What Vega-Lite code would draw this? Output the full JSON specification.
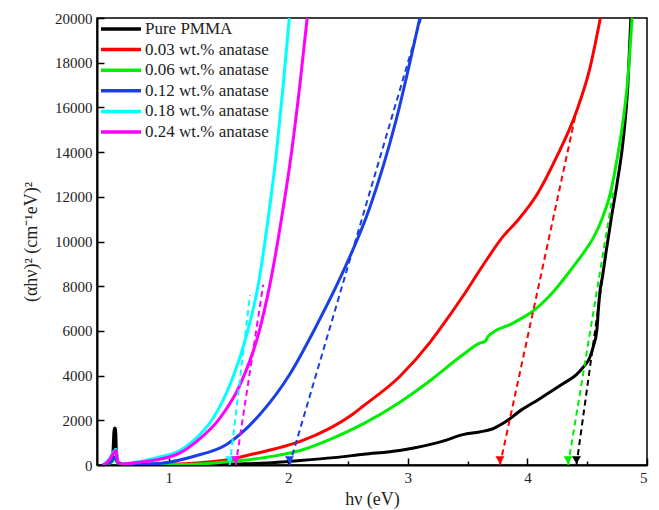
{
  "$schema": "https://vega.github.io/schema/vega-lite/v6.json",
  "width": 550,
  "height": 447,
  "autosize": "none",
  "padding": {"left": 97, "top": 18, "right": 12, "bottom": 45},
  "background": "white",
  "config": {
    "font": "Liberation Serif, serif",
    "view": {"stroke": "black", "strokeWidth": 1.5},
    "style": {
      "guide-label": {"font": "Liberation Serif, serif"},
      "guide-title": {"font": "Liberation Serif, serif"}
    },
    "axis": {
      "grid": false,
      "domainColor": "black",
      "domainWidth": 2,
      "tickColor": "black",
      "tickWidth": 1.5,
      "labelFont": "Liberation Serif, serif",
      "labelFontSize": 15,
      "labelColor": "#222",
      "titleFont": "Liberation Serif, serif",
      "titleFontSize": 18,
      "titleFontWeight": "normal",
      "titleColor": "#222"
    },
    "legend": {
      "labelFont": "Liberation Serif, serif"
    }
  },
  "datasets": {
    "curves": [
      {"series": "Pure PMMA", "x": 0.45, "y": 0},
      {"series": "Pure PMMA", "x": 0.5, "y": 100},
      {"series": "Pure PMMA", "x": 0.53, "y": 350},
      {"series": "Pure PMMA", "x": 0.545, "y": 1640},
      {"series": "Pure PMMA", "x": 0.555, "y": 1640},
      {"series": "Pure PMMA", "x": 0.565, "y": 150},
      {"series": "Pure PMMA", "x": 0.6, "y": 40},
      {"series": "Pure PMMA", "x": 0.8, "y": 10},
      {"series": "Pure PMMA", "x": 1.0, "y": 10},
      {"series": "Pure PMMA", "x": 1.3, "y": 20},
      {"series": "Pure PMMA", "x": 1.6, "y": 50},
      {"series": "Pure PMMA", "x": 1.82, "y": 90},
      {"series": "Pure PMMA", "x": 2.1, "y": 200},
      {"series": "Pure PMMA", "x": 2.38, "y": 330},
      {"series": "Pure PMMA", "x": 2.63, "y": 480},
      {"series": "Pure PMMA", "x": 2.93, "y": 650},
      {"series": "Pure PMMA", "x": 3.05, "y": 760},
      {"series": "Pure PMMA", "x": 3.18, "y": 910},
      {"series": "Pure PMMA", "x": 3.3, "y": 1080},
      {"series": "Pure PMMA", "x": 3.46, "y": 1360},
      {"series": "Pure PMMA", "x": 3.6, "y": 1480},
      {"series": "Pure PMMA", "x": 3.7, "y": 1600},
      {"series": "Pure PMMA", "x": 3.8, "y": 1880},
      {"series": "Pure PMMA", "x": 3.96, "y": 2500},
      {"series": "Pure PMMA", "x": 4.1, "y": 2950},
      {"series": "Pure PMMA", "x": 4.2, "y": 3300},
      {"series": "Pure PMMA", "x": 4.3, "y": 3650},
      {"series": "Pure PMMA", "x": 4.41, "y": 4040},
      {"series": "Pure PMMA", "x": 4.47, "y": 4400},
      {"series": "Pure PMMA", "x": 4.52, "y": 4790},
      {"series": "Pure PMMA", "x": 4.55, "y": 5290},
      {"series": "Pure PMMA", "x": 4.58, "y": 6000},
      {"series": "Pure PMMA", "x": 4.595, "y": 7080},
      {"series": "Pure PMMA", "x": 4.61, "y": 7900},
      {"series": "Pure PMMA", "x": 4.625, "y": 8350},
      {"series": "Pure PMMA", "x": 4.66, "y": 9620},
      {"series": "Pure PMMA", "x": 4.7, "y": 11000},
      {"series": "Pure PMMA", "x": 4.75, "y": 12600},
      {"series": "Pure PMMA", "x": 4.8, "y": 14500},
      {"series": "Pure PMMA", "x": 4.84, "y": 17000},
      {"series": "Pure PMMA", "x": 4.865, "y": 20000},

      {"series": "0.03 wt.% anatase", "x": 0.45, "y": 0},
      {"series": "0.03 wt.% anatase", "x": 0.52, "y": 150},
      {"series": "0.03 wt.% anatase", "x": 0.55, "y": 300},
      {"series": "0.03 wt.% anatase", "x": 0.58, "y": 80},
      {"series": "0.03 wt.% anatase", "x": 0.7, "y": 30},
      {"series": "0.03 wt.% anatase", "x": 1.0, "y": 40},
      {"series": "0.03 wt.% anatase", "x": 1.26, "y": 100},
      {"series": "0.03 wt.% anatase", "x": 1.5, "y": 250},
      {"series": "0.03 wt.% anatase", "x": 1.68, "y": 460},
      {"series": "0.03 wt.% anatase", "x": 1.9, "y": 740},
      {"series": "0.03 wt.% anatase", "x": 2.1, "y": 1060},
      {"series": "0.03 wt.% anatase", "x": 2.35, "y": 1650},
      {"series": "0.03 wt.% anatase", "x": 2.52, "y": 2200},
      {"series": "0.03 wt.% anatase", "x": 2.63, "y": 2650},
      {"series": "0.03 wt.% anatase", "x": 2.93, "y": 3950},
      {"series": "0.03 wt.% anatase", "x": 3.18, "y": 5450},
      {"series": "0.03 wt.% anatase", "x": 3.27, "y": 6100},
      {"series": "0.03 wt.% anatase", "x": 3.46, "y": 7550},
      {"series": "0.03 wt.% anatase", "x": 3.63, "y": 8950},
      {"series": "0.03 wt.% anatase", "x": 3.8, "y": 10250},
      {"series": "0.03 wt.% anatase", "x": 3.92, "y": 10950},
      {"series": "0.03 wt.% anatase", "x": 4.08, "y": 12100},
      {"series": "0.03 wt.% anatase", "x": 4.24, "y": 13740},
      {"series": "0.03 wt.% anatase", "x": 4.41, "y": 15820},
      {"series": "0.03 wt.% anatase", "x": 4.52, "y": 17700},
      {"series": "0.03 wt.% anatase", "x": 4.61, "y": 20000},

      {"series": "0.06 wt.% anatase", "x": 0.45, "y": 0},
      {"series": "0.06 wt.% anatase", "x": 0.52, "y": 120},
      {"series": "0.06 wt.% anatase", "x": 0.55, "y": 250},
      {"series": "0.06 wt.% anatase", "x": 0.58, "y": 60},
      {"series": "0.06 wt.% anatase", "x": 0.7, "y": 20},
      {"series": "0.06 wt.% anatase", "x": 1.0, "y": 20},
      {"series": "0.06 wt.% anatase", "x": 1.3, "y": 60},
      {"series": "0.06 wt.% anatase", "x": 1.6, "y": 200},
      {"series": "0.06 wt.% anatase", "x": 1.9, "y": 420},
      {"series": "0.06 wt.% anatase", "x": 2.1, "y": 650},
      {"series": "0.06 wt.% anatase", "x": 2.35, "y": 1150},
      {"series": "0.06 wt.% anatase", "x": 2.63, "y": 1850},
      {"series": "0.06 wt.% anatase", "x": 2.93, "y": 2800},
      {"series": "0.06 wt.% anatase", "x": 3.18, "y": 3750},
      {"series": "0.06 wt.% anatase", "x": 3.46, "y": 4930},
      {"series": "0.06 wt.% anatase", "x": 3.6, "y": 5450},
      {"series": "0.06 wt.% anatase", "x": 3.65, "y": 5550},
      {"series": "0.06 wt.% anatase", "x": 3.67, "y": 5750},
      {"series": "0.06 wt.% anatase", "x": 3.88, "y": 6350},
      {"series": "0.06 wt.% anatase", "x": 4.05, "y": 6900},
      {"series": "0.06 wt.% anatase", "x": 4.2, "y": 7650},
      {"series": "0.06 wt.% anatase", "x": 4.38, "y": 8850},
      {"series": "0.06 wt.% anatase", "x": 4.49, "y": 9650},
      {"series": "0.06 wt.% anatase", "x": 4.55, "y": 10150},
      {"series": "0.06 wt.% anatase", "x": 4.63, "y": 11100},
      {"series": "0.06 wt.% anatase", "x": 4.7, "y": 12300},
      {"series": "0.06 wt.% anatase", "x": 4.75, "y": 13700},
      {"series": "0.06 wt.% anatase", "x": 4.8, "y": 15400},
      {"series": "0.06 wt.% anatase", "x": 4.84, "y": 17300},
      {"series": "0.06 wt.% anatase", "x": 4.875, "y": 20000},

      {"series": "0.12 wt.% anatase", "x": 0.45, "y": 0},
      {"series": "0.12 wt.% anatase", "x": 0.52, "y": 150},
      {"series": "0.12 wt.% anatase", "x": 0.55, "y": 350},
      {"series": "0.12 wt.% anatase", "x": 0.58, "y": 80},
      {"series": "0.12 wt.% anatase", "x": 0.7, "y": 30},
      {"series": "0.12 wt.% anatase", "x": 0.94, "y": 80},
      {"series": "0.12 wt.% anatase", "x": 1.09, "y": 220},
      {"series": "0.12 wt.% anatase", "x": 1.22, "y": 400},
      {"series": "0.12 wt.% anatase", "x": 1.48, "y": 910},
      {"series": "0.12 wt.% anatase", "x": 1.76, "y": 2250},
      {"series": "0.12 wt.% anatase", "x": 2.01, "y": 4040},
      {"series": "0.12 wt.% anatase", "x": 2.24, "y": 6280},
      {"series": "0.12 wt.% anatase", "x": 2.46, "y": 8670},
      {"series": "0.12 wt.% anatase", "x": 2.68, "y": 11500},
      {"series": "0.12 wt.% anatase", "x": 2.9, "y": 15400},
      {"series": "0.12 wt.% anatase", "x": 3.1, "y": 20000},

      {"series": "0.18 wt.% anatase", "x": 0.45, "y": 0},
      {"series": "0.18 wt.% anatase", "x": 0.5, "y": 250},
      {"series": "0.18 wt.% anatase", "x": 0.54, "y": 600},
      {"series": "0.18 wt.% anatase", "x": 0.56, "y": 700},
      {"series": "0.18 wt.% anatase", "x": 0.575, "y": 150},
      {"series": "0.18 wt.% anatase", "x": 0.62, "y": 60},
      {"series": "0.18 wt.% anatase", "x": 0.75, "y": 150},
      {"series": "0.18 wt.% anatase", "x": 0.9, "y": 330},
      {"series": "0.18 wt.% anatase", "x": 1.094, "y": 650},
      {"series": "0.18 wt.% anatase", "x": 1.205, "y": 1080},
      {"series": "0.18 wt.% anatase", "x": 1.372, "y": 2100},
      {"series": "0.18 wt.% anatase", "x": 1.512, "y": 3590},
      {"series": "0.18 wt.% anatase", "x": 1.652, "y": 5830},
      {"series": "0.18 wt.% anatase", "x": 1.749, "y": 8070},
      {"series": "0.18 wt.% anatase", "x": 1.832, "y": 11050},
      {"series": "0.18 wt.% anatase", "x": 1.902, "y": 14030},
      {"series": "0.18 wt.% anatase", "x": 1.958, "y": 17020},
      {"series": "0.18 wt.% anatase", "x": 2.008, "y": 20000},

      {"series": "0.24 wt.% anatase", "x": 0.45, "y": 0},
      {"series": "0.24 wt.% anatase", "x": 0.5, "y": 200},
      {"series": "0.24 wt.% anatase", "x": 0.54, "y": 550},
      {"series": "0.24 wt.% anatase", "x": 0.56, "y": 650},
      {"series": "0.24 wt.% anatase", "x": 0.575, "y": 130},
      {"series": "0.24 wt.% anatase", "x": 0.62, "y": 50},
      {"series": "0.24 wt.% anatase", "x": 0.75, "y": 120},
      {"series": "0.24 wt.% anatase", "x": 0.885, "y": 220},
      {"series": "0.24 wt.% anatase", "x": 1.094, "y": 540},
      {"series": "0.24 wt.% anatase", "x": 1.234, "y": 1060},
      {"series": "0.24 wt.% anatase", "x": 1.428, "y": 2100},
      {"series": "0.24 wt.% anatase", "x": 1.596, "y": 3590},
      {"series": "0.24 wt.% anatase", "x": 1.749, "y": 5830},
      {"series": "0.24 wt.% anatase", "x": 1.846, "y": 8070},
      {"series": "0.24 wt.% anatase", "x": 1.944, "y": 11050},
      {"series": "0.24 wt.% anatase", "x": 2.028, "y": 14030},
      {"series": "0.24 wt.% anatase", "x": 2.097, "y": 17020},
      {"series": "0.24 wt.% anatase", "x": 2.158, "y": 20000}
    ],
    "tangents": [
      {"series": "Pure PMMA", "x": 4.41, "y": 0},
      {"series": "Pure PMMA", "x": 4.63, "y": 8500},
      {"series": "0.03 wt.% anatase", "x": 3.77, "y": 0},
      {"series": "0.03 wt.% anatase", "x": 4.41, "y": 15850},
      {"series": "0.06 wt.% anatase", "x": 4.34, "y": 0},
      {"series": "0.06 wt.% anatase", "x": 4.72, "y": 12300},
      {"series": "0.12 wt.% anatase", "x": 2.01, "y": 0},
      {"series": "0.12 wt.% anatase", "x": 3.11, "y": 20000},
      {"series": "0.18 wt.% anatase", "x": 1.51, "y": 0},
      {"series": "0.18 wt.% anatase", "x": 1.68, "y": 7600},
      {"series": "0.24 wt.% anatase", "x": 1.56, "y": 0},
      {"series": "0.24 wt.% anatase", "x": 1.79, "y": 8070}
    ],
    "gaps": [
      {"series": "Pure PMMA", "x": 4.41, "y": 0},
      {"series": "0.03 wt.% anatase", "x": 3.77, "y": 0},
      {"series": "0.06 wt.% anatase", "x": 4.34, "y": 0},
      {"series": "0.12 wt.% anatase", "x": 2.01, "y": 0},
      {"series": "0.18 wt.% anatase", "x": 1.51, "y": 0},
      {"series": "0.24 wt.% anatase", "x": 1.56, "y": 0}
    ]
  },
  "layer": [
    {
      "data": {"name": "curves"},
      "mark": {"type": "line", "strokeWidth": 3, "interpolate": "monotone", "clip": true},
      "encoding": {
        "x": {
          "field": "x",
          "type": "quantitative",
          "title": "hν (eV)",
          "scale": {"domain": [0.4, 5], "nice": false, "zero": false},
          "axis": {
            "values": [0.5, 1, 1.5, 2, 2.5, 3, 3.5, 4, 4.5, 5],
            "labelExpr": "datum.value % 1 === 0 ? format(datum.value, 'd') : ''",
            "tickSize": {"condition": {"test": "datum.value % 1 === 0", "value": -7}, "value": -4},
            "labelFont": "Liberation Serif",
            "titleFont": "Liberation Serif",
            "labelPadding": 12,
            "titlePadding": 5
          }
        },
        "y": {
          "field": "y",
          "type": "quantitative",
          "title": "(αhν)² (cm⁻¹eV)²",
          "scale": {"domain": [0, 20000], "nice": false},
          "axis": {
            "values": [0, 1000, 2000, 3000, 4000, 5000, 6000, 7000, 8000, 9000, 10000, 11000, 12000, 13000, 14000, 15000, 16000, 17000, 18000, 19000, 20000],
            "labelExpr": "datum.value % 2000 === 0 ? format(datum.value, 'd') : ''",
            "tickSize": {"condition": {"test": "datum.value % 2000 === 0", "value": -7}, "value": -4},
            "labelFont": "Liberation Serif",
            "titleFont": "Liberation Serif",
            "labelPadding": 12,
            "titlePadding": 14
          }
        },
        "color": {
          "field": "series",
          "type": "nominal",
          "scale": {
            "domain": ["Pure PMMA", "0.03 wt.% anatase", "0.06 wt.% anatase", "0.12 wt.% anatase", "0.18 wt.% anatase", "0.24 wt.% anatase"],
            "range": ["#000000", "#ff0000", "#00ee00", "#1a3fe6", "#00ffff", "#ff00ff"]
          },
          "legend": {
            "title": null,
            "orient": "none",
            "legendX": 12,
            "legendY": -1,
            "padding": 0,
            "symbolType": "M-2,0H2",
            "symbolSize": 400,
            "symbolStrokeWidth": 3.5,
            "labelFontSize": 17,
            "labelColor": "#222",
            "labelOffset": 12,
            "rowPadding": 0.6
          }
        }
      }
    },
    {
      "data": {"name": "tangents"},
      "mark": {"type": "line", "strokeWidth": 2, "strokeDash": [6, 4], "clip": true},
      "encoding": {
        "x": {"field": "x", "type": "quantitative"},
        "y": {"field": "y", "type": "quantitative"},
        "detail": {"field": "series"},
        "color": {"field": "series", "type": "nominal"}
      }
    },
    {
      "data": {"name": "gaps"},
      "mark": {"type": "point", "shape": "triangle-down", "filled": true, "opacity": 1, "size": 80, "yOffset": -5},
      "encoding": {
        "x": {"field": "x", "type": "quantitative"},
        "y": {"field": "y", "type": "quantitative"},
        "color": {"field": "series", "type": "nominal"}
      }
    }
  ]
}
